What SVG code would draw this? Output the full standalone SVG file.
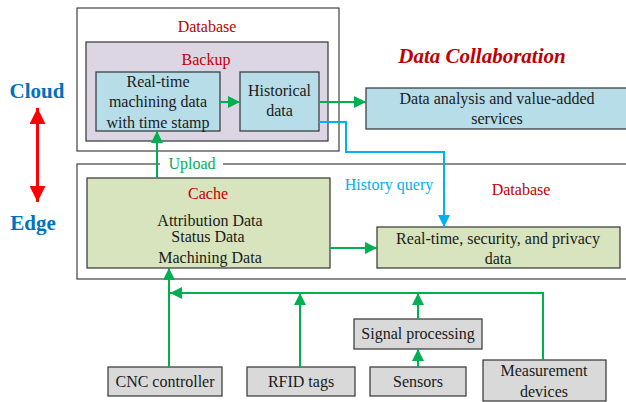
<svg xmlns="http://www.w3.org/2000/svg" width="626" height="402" viewBox="0 0 626 402">
<style>
text{font-family:"Liberation Serif","Times New Roman",serif;font-size:16px;fill:#1a1a1a;text-anchor:middle}
.red{fill:#C00000}
.frame{fill:#fff;stroke:#404040;stroke-width:1.2}
.box{stroke:#333;stroke-width:1.2}
.blue{fill:#B7DDE8}
.purple{fill:#DCD6E4}
.green{fill:#D7E4BD}
.gray{fill:#D9D9D9}
.g{stroke:#00B050;stroke-width:2;fill:none}
.b{stroke:#00B0F0;stroke-width:2;fill:none}
</style>
<defs>
<marker id="ag" markerUnits="userSpaceOnUse" markerWidth="12" markerHeight="12" viewBox="0 0 12 12" refX="12" refY="6" orient="auto"><path d="M0,0 L12,6 L0,12 z" fill="#00B050"/></marker>
<marker id="ab" markerUnits="userSpaceOnUse" markerWidth="12" markerHeight="12" viewBox="0 0 12 12" refX="12" refY="6" orient="auto"><path d="M0,0 L12,6 L0,12 z" fill="#00B0F0"/></marker>
<marker id="ar" markerUnits="userSpaceOnUse" markerWidth="16" markerHeight="16" viewBox="0 0 16 16" refX="16" refY="8" orient="auto"><path d="M0,0 L16,8 L0,16 z" fill="#FF0000"/></marker>
</defs>

<g id="cloud-edge">
<text x="37" y="98" style="font-size:21px;font-weight:bold;fill:#0070C0">Cloud</text>
<text x="33" y="230" style="font-size:21px;font-weight:bold;fill:#0070C0">Edge</text>
<line x1="37.5" y1="122" x2="37.5" y2="108" stroke="#FF0000" stroke-width="3" marker-end="url(#ar)"/>
<line x1="37.5" y1="120" x2="37.5" y2="202" stroke="#FF0000" stroke-width="3" marker-end="url(#ar)"/>
</g>

<g id="cloud-database">
<rect class="frame" x="77" y="8" width="262" height="143"/>
<text class="red" x="207" y="32">Database</text>
</g>
<g id="backup">
<rect class="box purple" x="86" y="42" width="242" height="99"/>
<text class="red" x="206" y="65">Backup</text>
</g>
<g id="realtime">
<rect class="box blue" x="96" y="72" width="124" height="59"/>
<text x="158" y="87">Real-time</text>
<text x="158" y="107">machining data</text>
<text x="158" y="128">with time stamp</text>
</g>
<g id="historical">
<rect class="box blue" x="240" y="72" width="79" height="59"/>
<text x="279.5" y="96">Historical</text>
<text x="279.5" y="116">data</text>
</g>

<g id="collab-title">
<text x="482" y="63" style="font-size:21px;font-weight:bold;font-style:italic;fill:#C00000">Data Collaboration</text>
</g>
<g id="analysis">
<rect class="box blue" x="366" y="88" width="264" height="41"/>
<text x="497" y="104">Data analysis and value-added</text>
<text x="497" y="124">services</text>
</g>

<g id="edge-database">
<rect class="frame" x="77" y="164" width="560" height="115"/>
<rect x="160" y="155" width="63" height="18" fill="#fff"/>
<text x="192" y="169" style="fill:#00B050">Upload</text>
<text x="389" y="190" style="fill:#00B0F0">History query</text>
<text class="red" x="521" y="195">Database</text>
</g>
<g id="cache">
<rect class="box green" x="87" y="178" width="243" height="90"/>
<text class="red" x="208" y="199">Cache</text>
<text x="210" y="226">Attribution Data</text>
<text x="208" y="242">Status Data</text>
<text x="210" y="263">Machining Data</text>
</g>
<g id="security">
<rect class="box green" x="377" y="227" width="243" height="41"/>
<text x="498" y="244">Real-time, security, and privacy</text>
<text x="498" y="264">data</text>
</g>

<g id="cnc"><rect class="box gray" x="108" y="367" width="114" height="29"/><text x="165" y="387">CNC controller</text></g>
<g id="rfid"><rect class="box gray" x="247" y="367" width="108" height="29"/><text x="301" y="387">RFID tags</text></g>
<g id="signal"><rect class="box gray" x="354" y="319" width="128" height="30"/><text x="418" y="339">Signal processing</text></g>
<g id="sensors"><rect class="box gray" x="370" y="367" width="96" height="29"/><text x="418" y="387">Sensors</text></g>
<g id="measure"><rect class="box gray" x="483" y="360" width="123" height="41"/><text x="544" y="376">Measurement</text><text x="544" y="397">devices</text></g>

<g id="connectors">
<line class="g" x1="220" y1="102" x2="240" y2="102" marker-end="url(#ag)"/>
<line class="g" x1="319" y1="102" x2="366" y2="102" marker-end="url(#ag)"/>
<polyline class="b" points="319,122 346,122 346,152 444,152 444,227" marker-end="url(#ab)"/>
<line class="g" x1="157" y1="178" x2="157" y2="131" marker-end="url(#ag)"/>
<line class="g" x1="330" y1="248" x2="377" y2="248" marker-end="url(#ag)"/>
<line class="g" x1="169" y1="367" x2="169" y2="268" marker-end="url(#ag)"/>
<polyline class="g" points="543,360 543,293 170,293" marker-end="url(#ag)"/>
<line class="g" x1="300" y1="367" x2="300" y2="293" marker-end="url(#ag)"/>
<line class="g" x1="418" y1="319" x2="418" y2="293" marker-end="url(#ag)"/>
<line class="g" x1="418" y1="367" x2="418" y2="349" marker-end="url(#ag)"/>
</g>
</svg>
